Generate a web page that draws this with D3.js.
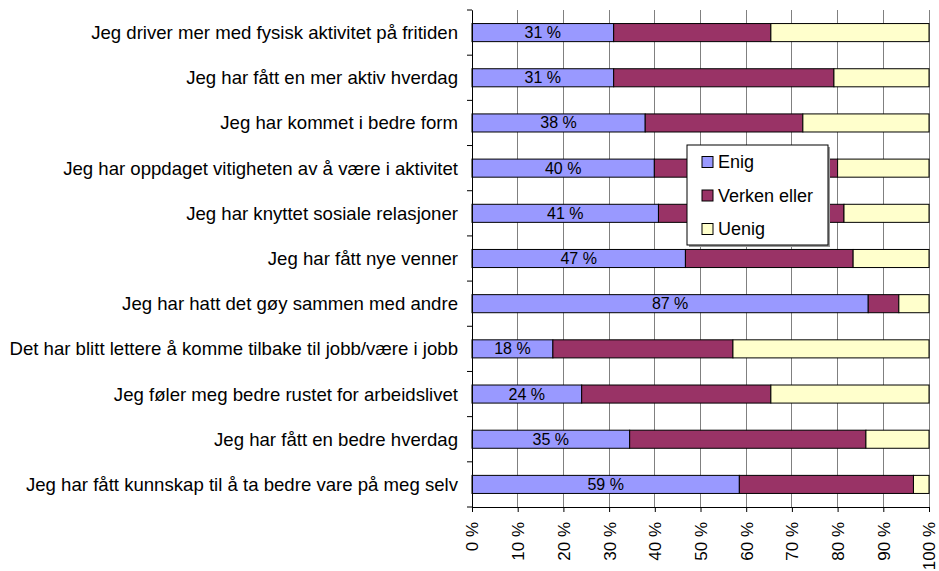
<!DOCTYPE html>
<html><head><meta charset="utf-8">
<script src="https://cdn.jsdelivr.net/npm/d3@7"></script>
<style>body{margin:0;background:#fff;} text{font-family:"Liberation Sans",Arial,sans-serif;}</style>
</head><body>
<svg id="c" width="939" height="571"></svg>
<script>
const categories = [
  "Jeg driver mer med fysisk aktivitet på fritiden",
  "Jeg har fått en mer aktiv hverdag",
  "Jeg har kommet i bedre form",
  "Jeg har oppdaget vitigheten av å være i aktivitet",
  "Jeg har knyttet sosiale relasjoner",
  "Jeg har fått nye venner",
  "Jeg har hatt det gøy sammen med andre",
  "Det har blitt lettere å komme tilbake til jobb/være i jobb",
  "Jeg føler meg bedre rustet for arbeidslivet",
  "Jeg har fått en bedre hverdag",
  "Jeg har fått kunnskap til å ta bedre vare på meg selv"
];
const seriesNames = ["Enig", "Verken eller", "Uenig"];
const enig   = [31.0, 31.0, 37.9, 39.9, 40.8, 46.7, 86.7, 17.7, 24.0, 34.5, 58.5];
const verken = [34.4, 48.2, 34.5, 40.1, 40.6, 36.7, 6.7, 39.4, 41.4, 51.7, 38.1];
const uenig  = [34.6, 20.8, 27.6, 20.0, 18.6, 16.6, 6.6, 42.9, 34.6, 13.8, 3.4];
const tickValues = [0,10,20,30,40,50,60,70,80,90,100];
const colors = ["#9999FF", "#993366", "#FFFFCC"];

const svg = d3.select("#c");
const pLeft = 472, pRight = 929, pTop = 10, pBottom = 507;
const x = d3.scaleLinear().domain([0,100]).range([pLeft,pRight]);
const y = d3.scaleBand().domain(categories).range([pTop,pBottom]).paddingInner(0.6).paddingOuter(0.3);
const yb = d3.scaleBand().domain(categories).range([pTop,pBottom]);

// gridlines
svg.append("g").selectAll("line").data(tickValues).join("line")
  .attr("x1", d=>x(d)).attr("x2", d=>x(d)).attr("y1", pTop).attr("y2", pBottom)
  .attr("stroke", "#808080").attr("stroke-width", 1).attr("shape-rendering","crispEdges");

const rows = categories.map((c,i)=>({c, vals:[enig[i], verken[i], uenig[i]]}));
const stack = [];
rows.forEach(r=>{ let acc=0; r.vals.forEach((v,k)=>{ stack.push({c:r.c,k,x0:acc,x1:acc+v,v}); acc+=v; }); });

svg.append("g").selectAll("rect").data(stack).join("rect")
  .attr("x", d=>x(d.x0)).attr("width", d=>x(d.x1)-x(d.x0))
  .attr("y", d=>y(d.c)).attr("height", y.bandwidth())
  .attr("fill", d=>colors[d.k]).attr("stroke","#000").attr("stroke-width",1);

// labels
svg.append("g").selectAll("text").data(stack.filter(d=>d.k===0)).join("text")
  .attr("x", d=>(x(d.x0)+x(d.x1))/2).attr("y", d=>y(d.c)+y.bandwidth()/2)
  .attr("text-anchor","middle").attr("dominant-baseline","central")
  .attr("font-size", 16).attr("fill","#000")
  .text(d=>Math.round(d.v)+" %");

// y axis
const yAxis = d3.axisLeft(yb).tickSize(0).tickFormat(()=>"");
const gy = svg.append("g").attr("transform",`translate(${pLeft},0)`).call(yAxis);
gy.select(".domain").attr("stroke","#000");
gy.append("g").selectAll("line").data(d3.range(categories.length+1)).join("line")
  .attr("x1",-5).attr("x2",0).attr("y1",i=>pTop+i*yb.step()).attr("y2",i=>pTop+i*yb.step())
  .attr("stroke","#000");
svg.append("g").selectAll("text").data(categories).join("text")
  .attr("x", pLeft-14).attr("y", d=>yb(d)+yb.bandwidth()/2)
  .attr("text-anchor","end").attr("dominant-baseline","central")
  .attr("font-size", 18.6).attr("fill","#000").text(d=>d);

// x axis
const xAxis = d3.axisBottom(x).tickValues(tickValues).tickSize(5).tickFormat(d=>d+" %");
const gx = svg.append("g").attr("transform",`translate(0,${pBottom})`).call(xAxis);
gx.select(".domain").attr("stroke","#000");
gx.selectAll(".tick line").attr("stroke","#000");
gx.selectAll(".tick text").attr("font-size",17).attr("fill","#000")
  .attr("font-family","Liberation Sans, Arial, sans-serif")
  .attr("transform","rotate(-90)").attr("text-anchor","end")
  .attr("x",-15).attr("y",0).attr("dy","0.35em");

// legend
const lg = svg.append("g").attr("transform","translate(687,145)");
lg.append("rect").attr("x",2).attr("y",2).attr("width",141).attr("height",100).attr("fill","#999");
lg.append("rect").attr("width",141).attr("height",100).attr("fill","#fff").attr("stroke","#000");
seriesNames.forEach((n,i)=>{
  const cy = 17 + i*33.5;
  lg.append("rect").attr("x",15).attr("y",cy-5.5).attr("width",11).attr("height",11)
    .attr("fill",colors[i]).attr("stroke","#000");
  lg.append("text").attr("x",31).attr("y",cy).attr("dominant-baseline","central")
    .attr("font-size",18).attr("fill","#000").text(n);
});
</script>
</body></html>
